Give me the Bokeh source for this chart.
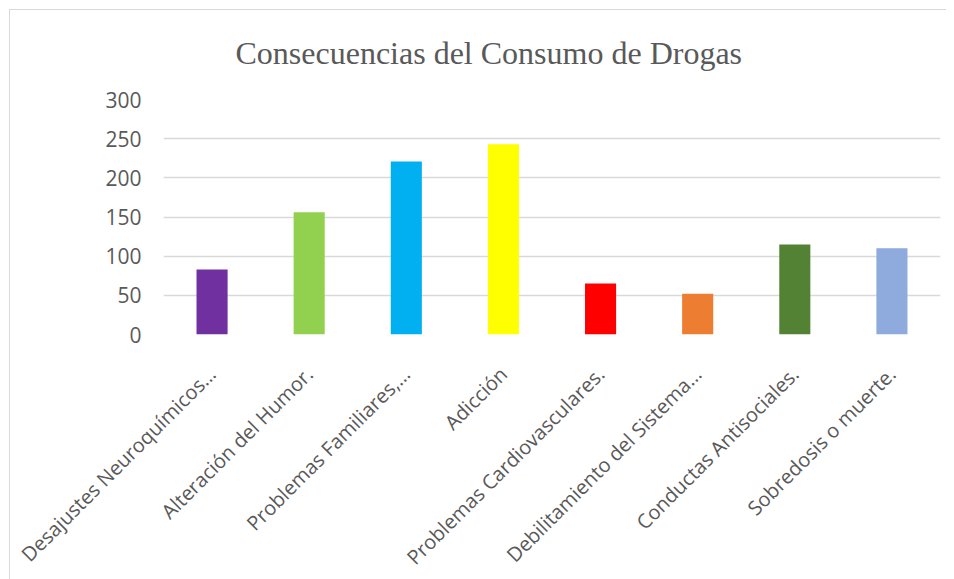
from bokeh.plotting import figure
from bokeh.models import ColumnDataSource, FactorRange, Range1d, FixedTicker
from bokeh.embed import file_html
from bokeh.resources import INLINE
import math

categories = [
    "Desajustes Neuroquímicos…",
    "Alteración del Humor.",
    "Problemas Familiares,…",
    "Adicción",
    "Problemas Cardiovasculares.",
    "Debilitamiento del Sistema…",
    "Conductas Antisociales.",
    "Sobredosis o muerte.",
]
values = [83, 156, 221, 243, 65, 52, 115, 110]
colors = ["#7030A0", "#92D050", "#00B0F0", "#FFFF00", "#FF0000", "#ED7D31", "#548235", "#8FAADC"]
y_ticks = [0, 50, 100, 150, 200, 250, 300]

src = ColumnDataSource(dict(cat=categories, val=values, color=colors))

p = figure(
    frame_width=777, frame_height=235,
    x_range=FactorRange(*categories, range_padding=0),
    y_range=Range1d(0, 300),
    output_backend="svg", toolbar_location=None,
    title="Consecuencias del Consumo de Drogas",
    min_border_left=163, min_border_right=6,
    min_border_top=99, min_border_bottom=10,
)
# chart-area border (left and top edges visible, as in the reference)
p.border_fill_color = None
p.background_fill_color = None
p.styles = {
    "background-color": "white",
    "background-image": "linear-gradient(#d9d9d9, #d9d9d9), linear-gradient(#d9d9d9, #d9d9d9)",
    "background-size": "1px 100%, 100% 1px",
    "background-position": "9px 9px, 9px 9px",
    "background-repeat": "no-repeat, no-repeat",
}

p.vbar(x="cat", top="val", width=0.32, color="color", source=src, line_color=None)

p.title.align = "left"
p.title.offset = 72
p.title.text_font = "Liberation Serif"
p.title.text_font_size = "32px"
p.title.text_font_style = "normal"
p.title.text_color = "#595959"
p.title.standoff = 58

p.outline_line_color = None
p.xgrid.grid_line_color = None
p.ygrid.grid_line_color = "#d9d9d9"
p.ygrid.grid_line_width = 1.5
p.yaxis.ticker = FixedTicker(ticks=y_ticks)

for ax in (p.xaxis, p.yaxis):
    ax.axis_line_color = None
    ax.major_tick_line_color = None
    ax.minor_tick_line_color = None
    ax.major_label_text_font = "Open Sans"
    ax.major_label_text_color = "#595959"

p.yaxis.major_label_text_font_size = "21px"
p.xaxis.major_label_text_font_size = "20px"
p.yaxis.major_label_standoff = 16
p.xaxis.major_label_orientation = math.pi / 4
p.xaxis.major_label_standoff = 30

open("out.html", "w").write(file_html(p, INLINE))
